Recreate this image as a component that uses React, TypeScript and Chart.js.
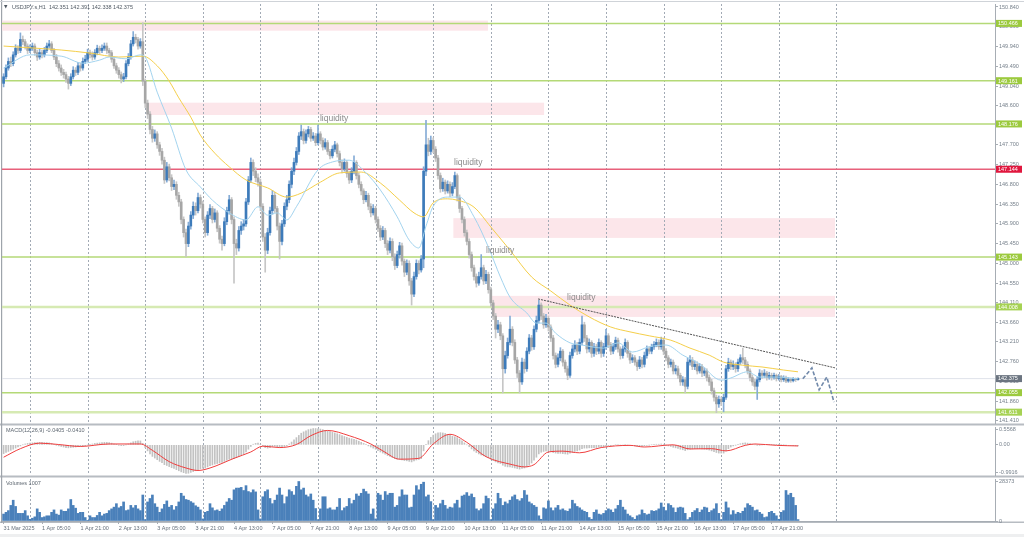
import React, { useEffect, useRef } from 'react';
import { Chart, registerables } from 'chart.js';

Chart.register(...registerables);

const FONT = '"Liberation Sans", Arial, sans-serif';

// ---------------- data ----------------
const symbolName = 'USDJPY.s,H1';

const opens = [
149.10,149.25,149.45,149.60,149.55,149.75,149.90,149.85,150.10,150.05,
149.95,149.85,149.90,149.95,149.80,149.70,149.80,149.75,149.85,149.95,
150.00,149.85,149.70,149.55,149.45,149.35,149.30,149.20,149.10,149.25,
149.40,149.35,149.50,149.45,149.60,149.65,149.80,149.75,149.70,149.80,
149.90,149.85,149.90,149.95,149.85,149.80,149.65,149.50,149.40,149.30,
149.20,149.25,149.55,149.70,150.00,150.15,150.10,149.95,150.05,149.15,
148.65,148.40,148.05,147.85,147.95,147.70,147.55,147.35,146.90,147.20,
146.95,146.75,146.80,146.55,146.40,146.00,145.70,145.45,145.85,146.10,
146.30,146.20,146.50,146.35,146.00,145.70,146.10,146.25,146.00,146.15,
145.80,145.55,145.45,145.95,146.20,146.45,146.00,145.45,145.35,145.75,
145.85,145.90,146.40,146.90,147.30,147.10,146.95,146.85,146.30,145.60,
145.30,145.70,146.20,146.55,146.25,145.85,145.50,145.90,146.30,146.45,
146.80,147.10,147.30,147.55,147.90,148.00,147.80,147.95,148.05,147.85,
147.90,147.75,147.95,147.80,147.65,147.75,147.55,147.45,147.60,147.70,
147.50,147.30,147.15,147.30,147.05,146.90,147.10,147.30,147.00,146.80,
146.65,146.45,146.55,146.30,146.15,146.25,146.00,145.80,145.60,145.75,
145.45,145.30,145.50,145.15,144.95,145.20,145.40,145.05,144.80,145.00,
144.60,144.30,144.70,145.00,144.85,145.10,147.10,147.70,147.55,147.80,
147.60,147.40,147.00,146.70,146.85,146.65,146.80,146.60,146.75,147.00,
146.50,146.25,146.00,145.70,145.50,145.20,144.90,144.70,144.55,144.70,
144.90,144.60,144.75,144.40,144.10,143.80,143.50,143.60,143.35,142.60,
142.90,143.20,143.50,143.20,142.80,142.50,142.30,142.75,142.60,143.00,
143.30,143.10,143.50,143.70,144.05,143.80,143.60,143.75,143.55,143.30,
142.90,142.70,142.85,143.00,142.75,142.60,142.45,142.90,143.05,143.15,
143.00,143.20,143.60,143.30,143.05,143.20,142.95,143.10,143.00,143.20,
142.95,143.10,143.35,143.15,143.00,143.10,143.25,143.05,142.90,143.05,
143.20,142.95,142.80,142.85,142.75,142.65,142.80,142.70,142.90,143.05,
143.00,143.10,143.15,143.20,143.10,143.25,143.00,142.85,142.70,142.75,
142.55,142.60,142.45,142.30,142.35,142.20,142.75,142.80,142.65,142.70,
142.55,142.65,142.50,142.55,142.40,142.30,142.10,141.95,141.80,141.90,
141.85,141.95,142.60,142.75,142.65,142.70,142.60,142.75,142.85,142.80,
142.70,142.55,142.40,142.30,142.20,142.35,142.50,142.45,142.50,142.40,
142.45,142.40,142.45,142.38,142.42,142.35,142.40,142.32,142.36,142.33,
142.37,142.351];

const highs = [
149.32,149.52,149.68,149.70,149.82,149.98,149.96,150.25,150.18,150.10,
150.00,149.98,150.02,150.00,149.86,149.88,149.86,149.92,150.02,150.08,
150.05,149.90,149.76,149.62,149.52,149.42,149.36,149.26,149.32,149.48,
149.46,149.58,149.56,149.68,149.74,149.88,149.86,149.82,149.87,149.97,
149.95,149.98,150.02,150.02,149.90,149.85,149.70,149.56,149.46,149.36,
149.33,149.62,149.78,150.08,150.28,150.22,150.15,150.12,150.48,149.20,
148.72,148.46,148.12,148.04,148.00,147.76,147.62,147.42,147.30,147.26,
147.02,146.90,146.86,146.62,146.46,146.06,145.78,145.94,146.18,146.40,
146.38,146.60,146.56,146.42,146.06,146.18,146.34,146.30,146.24,146.20,
145.86,145.62,146.04,146.28,146.55,146.50,146.06,145.55,145.84,145.95,
146.00,146.48,146.98,147.40,147.36,147.18,147.04,146.92,146.36,145.68,
145.80,146.28,146.66,146.62,146.30,145.92,145.98,146.38,146.55,146.88,
147.18,147.40,147.64,147.98,148.15,148.06,148.04,148.12,148.10,147.98,
147.96,148.15,148.00,147.86,147.84,147.80,147.60,147.68,147.78,147.74,
147.56,147.36,147.38,147.34,147.10,147.18,147.45,147.34,147.06,146.86,
146.70,146.64,146.60,146.36,146.34,146.30,146.06,145.86,145.84,145.80,
145.52,145.58,145.56,145.22,145.28,145.48,145.46,145.10,145.08,145.06,
144.66,144.80,145.08,145.06,145.18,147.20,148.26,147.85,147.90,147.86,
147.66,147.46,147.06,146.94,146.90,146.88,146.86,146.84,147.08,147.04,
146.56,146.30,146.06,145.76,145.56,145.26,144.96,144.76,144.80,145.20,
144.96,144.84,144.80,144.46,144.16,143.86,143.70,143.66,143.40,143.00,
143.30,143.80,143.56,143.26,142.86,142.56,142.84,142.82,143.08,143.38,
143.36,143.58,143.80,144.16,144.10,143.86,143.84,143.80,143.60,143.36,
142.96,142.94,143.08,143.04,142.80,142.66,142.98,143.14,143.24,143.20,
143.28,143.80,143.66,143.36,143.28,143.24,143.18,143.16,143.28,143.24,
143.18,143.50,143.40,143.20,143.18,143.32,143.30,143.10,143.12,143.28,
143.24,143.00,142.92,142.90,142.80,142.88,142.86,142.98,143.12,143.10,
143.16,143.22,143.28,143.26,143.32,143.30,143.06,142.90,142.82,142.80,
142.68,142.66,142.50,142.42,142.40,142.84,142.90,142.86,142.78,142.76,
142.72,142.70,142.62,142.60,142.46,142.36,142.16,142.00,141.98,141.96,
142.02,142.68,142.84,142.80,142.78,142.74,142.82,142.92,143.07,142.86,
142.76,142.60,142.46,142.36,142.42,142.58,142.56,142.58,142.54,142.52,
142.50,142.50,142.48,142.47,142.45,142.44,142.43,142.40,142.39,142.40,
142.39,142.391];

const lows = [
149.02,149.20,149.40,149.48,149.50,149.70,149.78,149.80,149.98,149.88,
149.78,149.80,149.85,149.74,149.62,149.65,149.68,149.70,149.80,149.90,
149.80,149.64,149.48,149.38,149.28,149.22,149.12,148.97,149.05,149.20,
149.28,149.30,149.38,149.40,149.55,149.60,149.68,149.63,149.65,149.75,
149.78,149.80,149.85,149.78,149.72,149.58,149.44,149.33,149.22,149.11,
149.14,149.20,149.50,149.65,149.95,150.02,149.88,149.90,149.05,148.55,
148.30,147.95,147.76,147.78,147.62,147.46,147.26,146.82,146.85,146.88,
146.66,146.68,146.46,146.30,145.90,145.60,145.15,145.38,145.78,146.02,
146.10,146.15,146.26,145.92,145.60,145.64,146.02,145.92,145.94,145.72,
145.46,145.30,145.40,145.88,146.12,145.90,144.55,145.20,145.28,145.66,
145.76,145.84,146.34,146.84,147.00,146.86,146.76,146.20,145.50,144.80,
145.22,145.64,146.12,146.16,145.76,145.10,145.42,145.84,146.22,146.38,
146.72,147.02,147.24,147.48,147.82,147.72,147.74,147.88,147.78,147.80,
147.68,147.70,147.72,147.58,147.60,147.48,147.38,147.40,147.54,147.42,
147.22,147.06,147.10,146.96,146.82,146.84,147.04,146.92,146.72,146.56,
146.36,146.40,146.22,146.06,146.10,145.92,145.72,145.52,145.54,145.36,
145.20,145.24,145.06,144.86,144.90,145.12,144.96,144.70,144.74,144.50,
144.05,144.24,144.64,144.76,144.80,144.90,147.00,147.45,147.48,147.52,
147.32,146.92,146.62,146.64,146.58,146.60,146.52,146.54,146.70,146.42,
146.16,145.92,145.62,145.42,145.12,144.82,144.62,144.46,144.50,144.64,
144.52,144.54,144.32,144.02,143.72,143.30,143.42,143.26,142.05,142.50,
142.84,143.14,143.12,142.72,142.40,142.05,142.24,142.50,142.54,142.94,
143.02,143.04,143.44,143.64,143.72,143.52,143.54,143.46,143.22,142.82,
142.62,142.64,142.78,142.66,142.52,142.35,142.40,142.84,142.98,142.92,
142.94,143.14,143.22,142.96,142.98,142.86,142.88,142.92,142.94,142.86,
142.88,143.04,143.08,142.92,142.94,143.04,142.98,142.82,142.84,142.98,
142.86,142.72,142.74,142.68,142.56,142.60,142.62,142.64,142.84,142.94,
142.94,143.04,143.10,143.04,143.04,142.92,142.78,142.62,142.64,142.48,
142.48,142.38,142.22,142.22,142.05,142.14,142.68,142.58,142.58,142.48,
142.50,142.42,142.44,142.32,142.22,142.02,141.86,141.60,141.72,141.76,
141.62,141.90,142.54,142.58,142.58,142.52,142.54,142.70,142.72,142.62,
142.48,142.32,142.22,142.12,141.90,142.30,142.38,142.40,142.34,142.36,
142.34,142.36,142.32,142.34,142.30,142.31,142.28,142.29,142.29,142.30,
142.31,142.338];

const closes = [
149.25,149.45,149.60,149.55,149.75,149.90,149.85,150.10,150.05,149.95,
149.85,149.90,149.95,149.80,149.70,149.80,149.75,149.85,149.95,150.00,
149.85,149.70,149.55,149.45,149.35,149.30,149.20,149.10,149.25,149.40,
149.35,149.50,149.45,149.60,149.65,149.80,149.75,149.70,149.80,149.90,
149.85,149.90,149.95,149.85,149.80,149.65,149.50,149.40,149.30,149.20,
149.25,149.55,149.70,150.00,150.15,150.10,149.95,150.05,149.15,148.65,
148.40,148.05,147.85,147.95,147.70,147.55,147.35,146.90,147.20,146.95,
146.75,146.80,146.55,146.40,146.00,145.70,145.45,145.85,146.10,146.30,
146.20,146.50,146.35,146.00,145.70,146.10,146.25,146.00,146.15,145.80,
145.55,145.45,145.95,146.20,146.45,146.00,145.45,145.35,145.75,145.85,
145.90,146.40,146.90,147.30,147.10,146.95,146.85,146.30,145.60,145.30,
145.70,146.20,146.55,146.25,145.85,145.50,145.90,146.30,146.45,146.80,
147.10,147.30,147.55,147.90,148.00,147.80,147.95,148.05,147.85,147.90,
147.75,147.95,147.80,147.65,147.75,147.55,147.45,147.60,147.70,147.50,
147.30,147.15,147.30,147.05,146.90,147.10,147.30,147.00,146.80,146.65,
146.45,146.55,146.30,146.15,146.25,146.00,145.80,145.60,145.75,145.45,
145.30,145.50,145.15,144.95,145.20,145.40,145.05,144.80,145.00,144.60,
144.30,144.70,145.00,144.85,145.10,147.10,147.70,147.55,147.80,147.60,
147.40,147.00,146.70,146.85,146.65,146.80,146.60,146.75,147.00,146.50,
146.25,146.00,145.70,145.50,145.20,144.90,144.70,144.55,144.70,144.90,
144.60,144.75,144.40,144.10,143.80,143.50,143.60,143.35,142.60,142.90,
143.20,143.50,143.20,142.80,142.50,142.30,142.75,142.60,143.00,143.30,
143.10,143.50,143.70,144.05,143.80,143.60,143.75,143.55,143.30,142.90,
142.70,142.85,143.00,142.75,142.60,142.45,142.90,143.05,143.15,143.00,
143.20,143.60,143.30,143.05,143.20,142.95,143.10,143.00,143.20,142.95,
143.10,143.35,143.15,143.00,143.10,143.25,143.05,142.90,143.05,143.20,
142.95,142.80,142.85,142.75,142.65,142.80,142.70,142.90,143.05,143.00,
143.10,143.15,143.20,143.10,143.25,143.00,142.85,142.70,142.75,142.55,
142.60,142.45,142.30,142.35,142.20,142.75,142.80,142.65,142.70,142.55,
142.65,142.50,142.55,142.40,142.30,142.10,141.95,141.80,141.90,141.85,
141.95,142.60,142.75,142.65,142.70,142.60,142.75,142.85,142.80,142.70,
142.55,142.40,142.30,142.20,142.35,142.50,142.45,142.50,142.40,142.45,
142.40,142.45,142.38,142.42,142.35,142.40,142.32,142.36,142.33,142.37,
142.351,142.375];

const volumes = [
5000,6250,7500,11250,15000,10500,5500,5500,5500,7500,3750,1250,
2000,3000,8750,6250,2500,3000,3750,3750,6250,8000,5000,4250,
8000,7000,7000,8750,15500,11250,9250,5500,6250,6250,2500,500,
3750,2500,2500,4000,6250,3750,5000,5500,7500,8750,10000,12500,
9500,10500,13750,7500,8000,11250,9500,11250,8750,7500,18750,1000,
13750,16250,18750,12500,10000,6250,8750,12000,14500,10000,11250,8000,
10500,13750,20000,18000,15500,15000,14000,13000,11000,10000,8000,1500,
6250,7000,12500,9500,7500,8000,7000,8750,11250,13750,16250,15000,
22500,23750,23750,24250,22000,25500,21250,20500,22500,21000,8000,1500,
17500,21250,22500,16250,12500,15000,18750,23750,18750,12500,17500,22500,
21250,18750,25000,28500,22500,23750,18750,17500,19500,15000,9000,1000,
8750,17500,17500,8750,9500,8000,8000,10000,16250,7500,9500,10500,
16250,12500,15000,19500,18000,20000,23000,21250,19500,5000,8750,1500,
20000,18750,15000,21250,18750,20000,20000,10000,11250,17500,22500,18750,
18750,9500,10000,18750,25500,22500,26500,28000,17500,18750,14000,1000,
11250,9500,12500,15000,11250,8750,10000,9500,12500,15000,9500,18000,
18750,20500,18000,19500,17000,8750,7500,8750,12500,18000,16250,1000,
8750,12500,20000,16250,11250,13750,12500,15000,17500,18750,15500,14500,
16250,22000,18750,13750,12500,11250,10000,3750,1250,9500,8750,14500,
9500,7500,9500,11250,8000,8750,7500,7000,8750,15000,12500,10500,
9500,8000,7000,6250,2500,1250,6250,8000,5000,4500,5500,7500,
8750,8000,6250,8750,11250,15000,10000,8000,5000,3750,2500,1250,
3750,4500,8000,5500,4500,5000,7500,7000,7500,8750,13000,10000,
7500,12500,11250,9500,6250,9500,10000,9500,5500,1000,2500,6250,
7500,9000,6250,8000,10000,9500,6250,7500,8750,12500,5500,1000,
6250,13750,9500,4500,7500,5000,6250,5500,7000,9500,12500,11250,
10000,7500,8000,6250,5000,2500,3000,6250,7000,5500,3750,1250,
6250,7500,22000,18750,20000,17000,11250,1007];

const macdHist = [
-0.32,-0.28,-0.24,-0.20,-0.16,
-0.12,-0.08,-0.04,0.00,0.03,0.05,0.06,
0.07,0.08,0.08,0.09,0.09,0.08,0.08,0.07,
0.05,0.02,-0.01,-0.04,-0.06,-0.08,-0.10,-0.11,-0.10,-0.09,-0.08,-0.07,-0.06,-0.05,-0.03,-0.01,0.01,
0.03,0.05,0.06,0.07,0.08,0.09,0.09,0.08,0.06,0.03,0.01,-0.01,-0.03,-0.03,0.00,0.03,0.07,0.11,0.13,0.14,0.14,
0.05,-0.10,-0.22,-0.33,-0.42,-0.48,-0.54,-0.60,-0.65,-0.72,-0.75,-0.79,-0.83,-0.86,-0.90,-0.94,-0.98,-1.01,-1.04,-1.03,
-1.00,-0.97,-0.94,-0.90,-0.87,-0.85,-0.84,-0.80,-0.76,-0.73,-0.70,-0.68,-0.66,-0.64,-0.60,-0.56,-0.52,-0.50,-0.50,-0.46,-0.42,-0.38,-0.34,
-0.26,-0.16,-0.06,0.02,0.05,0.06,0.02,-0.04,-0.10,-0.12,
-0.10,-0.06,-0.05,-0.07,-0.10,-0.09,-0.06,-0.03,0.03,0.10,0.18,
0.26,0.34,0.42,0.47,0.51,0.55,0.57,0.59,0.59,0.58,0.57,0.55,0.52,0.50,
0.48,0.45,0.43,0.40,0.37,0.33,0.30,0.27,0.24,0.22,0.20,0.17,0.13,0.09,0.05,
0.01,-0.04,-0.08,-0.12,-0.16,-0.21,-0.26,-0.30,-0.34,-0.39,-0.42,-0.46,-0.50,-0.52,-0.53,-0.55,-0.57,-0.58,-0.60,-0.62,
-0.58,-0.55,-0.53,-0.50,
-0.22,0.02,0.15,0.27,0.35,0.40,0.43,0.44,0.43,0.41,0.38,0.35,0.31,0.29,0.26,
0.20,0.14,0.07,0.00,-0.07,-0.15,-0.22,-0.28,-0.33,-0.37,-0.40,-0.43,-0.47,-0.52,-0.57,-0.62,-0.66,-0.68,-0.74,-0.78,-0.80,
-0.80,-0.82,-0.84,-0.86,-0.88,-0.86,-0.84,-0.80,-0.74,-0.66,-0.56,-0.45,
-0.33,-0.27,-0.24,-0.22,-0.22,-0.24,-0.28,-0.30,-0.31,-0.31,-0.32,-0.33,-0.34,
-0.30,-0.27,-0.24,-0.22,-0.19,-0.14,-0.12,-0.12,-0.11,-0.11,-0.10,-0.10,-0.08,-0.08,-0.07,
-0.04,-0.03,-0.03,-0.02,0.00,0.00,-0.01,-0.01,0.00,-0.01,-0.02,-0.03,-0.04,-0.05,-0.05,-0.05,-0.04,-0.02,-0.01,0.00,0.01,0.02,0.02,0.03,0.02,
-0.01,-0.04,-0.06,-0.09,-0.11,-0.13,-0.16,-0.18,-0.21,-0.18,-0.16,-0.15,-0.14,-0.14,-0.14,-0.15,-0.16,-0.17,-0.19,-0.22,-0.25,-0.28,-0.30,-0.30,-0.30,
-0.22,-0.14,-0.08,-0.04,-0.01,0.02,0.04,0.06,0.07,0.06,0.04,0.02,0.00,-0.01,-0.01,
0.00,0.00,0.01,0.01,0.01,0.01,0.01,0.01,0.00,0.00,-0.01,-0.02,-0.02,-0.03,-0.035,-0.0405];

const macdSignalIdx = [0,7,15,23,32,44,57,62,69,76,81,86,96,103,108,115,122,128,135,144,153,158,165,173,179,186,193,201,212,217,221,227,233,240,249,261,267,279,286,295,301,309,313,322,331];
const macdSignalVal = [-0.45,-0.14,0.06,0.01,-0.06,0.03,0.03,-0.20,-0.61,-0.84,-0.93,-0.84,-0.49,-0.26,-0.05,-0.10,0.01,0.33,0.52,0.33,0.03,-0.22,-0.52,-0.49,0.03,0.38,0.09,-0.43,-0.72,-0.80,-0.72,-0.26,-0.23,-0.29,-0.10,-0.02,-0.08,0.00,-0.15,-0.14,-0.22,-0.02,0.03,-0.02,-0.041];
const macdParams = '12,26,9';

const maSlowIdx = [0,11,24,36,48,58,64,69,73,78,82,88,94,101,110,118,124,132,140,149,157,165,171,175,179,185,189,196,203,211,220,228,236,244,253,261,269,278,286,294,300,308,316,325,331];
const maSlowVal = [149.95,149.91,149.86,149.79,149.70,149.72,149.50,149.15,148.77,148.33,147.92,147.51,147.20,146.90,146.72,146.51,146.60,146.85,147.06,147.08,146.83,146.44,146.15,146.06,146.38,146.47,146.44,146.28,145.83,145.30,144.69,144.37,144.05,143.78,143.55,143.44,143.35,143.25,143.07,142.91,142.75,142.68,142.64,142.57,142.53];

const maFastIdx = [0,11,24,33,40,44,51,57,59,64,70,76,82,87,94,101,106,110,114,118,122,131,137,144,151,157,164,169,173,176,179,185,190,196,202,207,211,218,222,226,230,236,241,250,256,262,269,276,283,290,299,303,310,315,322,331];
const maFastVal = [149.45,149.75,149.72,149.56,149.63,149.70,149.66,149.75,149.70,148.90,148.08,147.13,146.74,146.44,146.15,145.99,146.29,146.10,146.15,145.99,146.29,147.13,147.31,147.35,147.06,146.67,146.06,145.53,145.35,145.85,146.30,146.51,146.51,146.06,145.37,144.69,144.23,143.87,143.64,143.64,143.41,143.19,143.14,143.07,143.19,142.98,143.10,143.14,142.91,142.71,142.34,142.39,142.53,142.41,142.41,142.37];

const levelGreen = [150.466, 149.161, 148.176, 145.143, 142.055];
const levelPale = [144.008, 141.611];
const levelRed = [147.144];
const currentPrice = 142.375;

const zoneStartIdx = [-1, 59.6, 187.4, 203.5];
const zoneEndIdx = [201.8, 225.2, 346.4, 346.4];
const zoneHigh = [150.53, 148.66, 146.03, 144.26];
const zoneLow = [150.30, 148.38, 145.58, 143.78];

const liquidityIdx = [131.8, 187.7, 201.0, 234.8];
const liquidityPrice = [148.29, 147.30, 145.28, 144.23];
const liquidityText = ['liquidity', 'liquidity', 'liquidity', 'liquidity'];

const trendIdx = [222.7, 346.4];
const trendPrice = [144.19, 142.62];

const forecastIdx = [333, 336.8, 339.8, 343, 346];
const forecastPrice = [142.37, 142.62, 142.12, 142.41, 141.84];

const priceTicks = [150.84,150.39,149.94,149.49,149.04,148.6,148.15,147.7,147.25,146.8,146.35,145.9,145.45,145.0,144.55,144.11,143.66,143.21,142.76,142.31,141.86,141.41];
const macdTicks = [0.5568, 0, -0.9916];
const macdTickLabels = ['0.5568', '0.00', '-0.9916'];
const volumeTicks = [28373, 0];

const dayStartIdx = [11,35,59,83,107,131,155,179,203,227,251,275,299,323,347];
const timeLabelIdx = [0,16,32,48,64,80,96,112,128,144,160,176,192,208,224,240,256,272,288,304,320];
const timeLabels = ['31 Mar 2025','1 Apr 05:00','1 Apr 21:00','2 Apr 13:00','3 Apr 05:00','3 Apr 21:00','4 Apr 13:00','7 Apr 05:00','7 Apr 21:00','8 Apr 13:00','9 Apr 05:00','9 Apr 21:00','10 Apr 13:00','11 Apr 05:00','11 Apr 21:00','14 Apr 13:00','15 Apr 05:00','15 Apr 21:00','16 Apr 13:00','17 Apr 05:00','17 Apr 21:00'];

// ---------------- config ----------------
const X_MIN = -0.667;
const X_MAX = 413.08;
const AXIS_TEXT = '#77818c';
const AXIS_LINE = '#a7adb4';
const SMALL = 5.5;

const idx = closes.map((_, i) => i);
const isUp = closes.map((c, i) => c >= opens[i]);

function dayLines(chart: any) {
  const { ctx, chartArea: a, scales } = chart;
  const x = scales.x;
  ctx.save();
  ctx.beginPath();
  ctx.rect(a.left, a.top, a.right - a.left, a.bottom - a.top);
  ctx.clip();
  ctx.strokeStyle = '#a2aab5';
  ctx.lineWidth = 1;
  ctx.setLineDash([2, 2]);
  for (const d of dayStartIdx) {
    const px = Math.round(x.getPixelForValue(d)) + 0.5;
    ctx.beginPath();
    ctx.moveTo(px, a.top);
    ctx.lineTo(px, a.bottom);
    ctx.stroke();
  }
  ctx.restore();
}

function rightAxis(min: number, max: number, ticks: number[], fmt: any) {
  return {
    position: 'right',
    min,
    max,
    afterFit: (s: any) => { s.width = 29; },
    afterBuildTicks: (s: any) => { s.ticks = ticks.map((v) => ({ value: v })); },
    ticks: { callback: fmt, color: AXIS_TEXT, font: { family: FONT, size: SMALL, lineHeight: 1 }, padding: 1, autoSkip: false },
    grid: { drawOnChartArea: false, drawTicks: true, tickLength: 3, color: AXIS_LINE },
    border: { display: true, color: AXIS_LINE },
  };
}

const hiddenX = { type: 'linear', min: X_MIN, max: X_MAX, offset: false, display: false };

function common(top: number, bottom: number) {
  return {
    responsive: false,
    animation: false,
    events: [],
    layout: { padding: { left: 2, right: 0, top, bottom } },
    plugins: { legend: { display: false }, tooltip: { enabled: false } },
  };
}

function hLine(v: number, color: string, width: number, order: number) {
  return {
    type: 'line',
    data: [{ x: X_MIN, y: v }, { x: X_MAX, y: v }],
    borderColor: color,
    borderWidth: width,
    pointRadius: 0,
    order,
  };
}

function makeMain(canvas: HTMLCanvasElement) {
  const decor = {
    id: 'mainDecor',
    beforeDraw(chart: any) {
      const { ctx } = chart;
      ctx.save();
      ctx.fillStyle = '#ffffff';
      ctx.fillRect(0, 0, 1024, 537);
      ctx.fillStyle = '#b7bcc2';
      ctx.fillRect(0, 423.5, 1024, 2);
      ctx.fillRect(0, 475.5, 1024, 2);
      ctx.fillRect(0, 521.5, 1024, 1.5);
      ctx.fillStyle = '#eeeff0';
      ctx.fillRect(0, 534, 1024, 3);
      ctx.fillStyle = '#9ea4ab';
      ctx.fillRect(1, 0, 1.2, 523);
      ctx.fillStyle = '#cfd3d8';
      ctx.fillRect(0, 1, 1024, 1);
      ctx.restore();
    },
    beforeDatasetsDraw(chart: any) {
      const { ctx, chartArea: a, scales: { x, y } } = chart;
      ctx.save();
      ctx.beginPath();
      ctx.rect(a.left, a.top, a.right - a.left, a.bottom - a.top);
      ctx.clip();
      ctx.fillStyle = '#fce6ea';
      zoneStartIdx.forEach((s, k) => {
        const x0 = x.getPixelForValue(s);
        const x1 = x.getPixelForValue(zoneEndIdx[k]);
        const y0 = y.getPixelForValue(zoneHigh[k]);
        const y1 = y.getPixelForValue(zoneLow[k]);
        ctx.fillRect(x0, y0, x1 - x0, y1 - y0);
      });
      ctx.restore();
      dayLines(chart);
    },
    afterDatasetsDraw(chart: any) {
      const { ctx, scales: { x, y } } = chart;
      ctx.save();
      ctx.fillStyle = '#8b8b8b';
      ctx.font = `8.5px ${FONT}`;
      ctx.textBaseline = 'middle';
      ctx.textAlign = 'left';
      liquidityIdx.forEach((v, k) => {
        ctx.fillText(liquidityText[k], x.getPixelForValue(v), y.getPixelForValue(liquidityPrice[k]));
      });
      const n = closes.length - 1;
      ctx.fillStyle = '#4f5862';
      ctx.font = `4.5px "DejaVu Sans", sans-serif`;
      ctx.fillText('\u25BC', 4, 7);
      ctx.font = `${SMALL}px ${FONT}`;
      ctx.fillText(
        `${symbolName}  ${opens[n].toFixed(3)} ${highs[n].toFixed(3)} ${lows[n].toFixed(3)} ${closes[n].toFixed(3)}`,
        12, 7
      );
      ctx.restore();
    },
    afterDraw(chart: any) {
      const { ctx, chartArea: a, scales: { y } } = chart;
      const boxes: [number, string][] = [
        ...levelGreen.map((v) => [v, '#9cca3e'] as [number, string]),
        ...levelPale.map((v) => [v, '#a6d253'] as [number, string]),
        ...levelRed.map((v) => [v, '#e0173e'] as [number, string]),
        [currentPrice, '#6b7480'],
      ];
      ctx.save();
      ctx.font = `${SMALL}px ${FONT}`;
      ctx.textBaseline = 'middle';
      ctx.textAlign = 'left';
      for (const [v, c] of boxes) {
        const py = y.getPixelForValue(v);
        ctx.fillStyle = c;
        ctx.fillRect(a.right + 1, py - 3.5, 26, 7);
        ctx.fillStyle = '#ffffff';
        ctx.fillText(v.toFixed(3), a.right + 3, py + 0.3);
      }
      ctx.restore();
    },
  };

  const datasets: any[] = [
    hLine(currentPrice, '#dfe2ea', 1, 30),
    ...levelPale.map((v) => hLine(v, '#d6eab3', 2.5, 20)),
    ...levelGreen.map((v) => hLine(v, '#b4d977', 1.5, 19)),
    ...levelRed.map((v) => hLine(v, '#e8607b', 1.5, 18)),
    {
      type: 'bar',
      data: idx.map((i) => ({ x: i, y: [lows[i], highs[i]] })),
      backgroundColor: isUp.map((u) => (u ? '#86acd6' : '#c6c6c6')),
      barThickness: 1,
      grouped: false,
      order: 9,
    },
    {
      type: 'bar',
      data: idx.map((i) => ({ x: i, y: [opens[i], closes[i]] })),
      backgroundColor: isUp.map((u) => (u ? '#3d7bba' : '#a6a6a6')),
      barThickness: 2,
      minBarLength: 1,
      grouped: false,
      order: 8,
    },
    {
      type: 'line',
      data: maSlowIdx.map((v, k) => ({ x: v, y: maSlowVal[k] })),
      borderColor: '#f5cf4a',
      borderWidth: 1,
      pointRadius: 0,
      cubicInterpolationMode: 'monotone',
      order: 5,
    },
    {
      type: 'line',
      data: maFastIdx.map((v, k) => ({ x: v, y: maFastVal[k] })),
      borderColor: '#a3d4ef',
      borderWidth: 1,
      pointRadius: 0,
      cubicInterpolationMode: 'monotone',
      order: 4,
    },
    {
      type: 'line',
      data: trendIdx.map((v, k) => ({ x: v, y: trendPrice[k] })),
      borderColor: '#555555',
      borderWidth: 1,
      borderDash: [2, 1],
      pointRadius: 0,
      order: 3,
    },
    {
      type: 'line',
      data: forecastIdx.map((v, k) => ({ x: v, y: forecastPrice[k] })),
      borderColor: '#7189aa',
      borderWidth: 1.6,
      borderDash: [4, 2],
      pointRadius: 0,
      order: 2,
    },
  ];

  return new Chart(canvas, {
    type: 'bar',
    data: { datasets },
    options: {
      ...common(4, 114),
      scales: {
        x: hiddenX,
        y: rightAxis(141.364, 150.908, priceTicks, (v: any) => Number(v).toFixed(3)),
      },
    } as any,
    plugins: [decor],
  } as any);
}

function makeMacd(canvas: HTMLCanvasElement) {
  const decor = {
    id: 'macdDecor',
    beforeDatasetsDraw(chart: any) { dayLines(chart); },
    afterDraw(chart: any) {
      const { ctx } = chart;
      const n = macdHist.length - 1;
      ctx.save();
      ctx.fillStyle = '#5e6771';
      ctx.font = `${SMALL}px ${FONT}`;
      ctx.textBaseline = 'middle';
      ctx.fillText(`MACD(${macdParams}) ${macdHist[n].toFixed(4)} ${macdSignalVal[macdSignalVal.length - 1].toFixed(4)}`, 6, 430.5);
      ctx.restore();
    },
  };
  return new Chart(canvas, {
    type: 'bar',
    data: {
      datasets: [
        {
          type: 'bar',
          data: idx.map((i) => ({ x: i, y: macdHist[i] })),
          backgroundColor: '#c2c2c2',
          barThickness: 1,
          grouped: false,
          order: 2,
        },
        {
          type: 'line',
          data: macdSignalIdx.map((v, k) => ({ x: v, y: macdSignalVal[k] })),
          borderColor: '#ef3e3e',
          borderWidth: 1,
          pointRadius: 0,
          cubicInterpolationMode: 'monotone',
          order: 1,
        },
      ],
    },
    options: {
      ...common(427, 62),
      scales: {
        x: hiddenX,
        y: rightAxis(-1.094, 0.645, macdTicks, (_v: any, i: number) => macdTickLabels[i]),
      },
    } as any,
    plugins: [decor],
  } as any);
}

function makeVolume(canvas: HTMLCanvasElement) {
  const decor = {
    id: 'volDecor',
    beforeDatasetsDraw(chart: any) { dayLines(chart); },
    afterDraw(chart: any) {
      const { ctx } = chart;
      ctx.save();
      ctx.fillStyle = '#5e6771';
      ctx.font = `${SMALL}px ${FONT}`;
      ctx.textBaseline = 'middle';
      ctx.fillText(`Volumes ${volumes[volumes.length - 1]}`, 6, 483);
      ctx.restore();
    },
  };
  return new Chart(canvas, {
    type: 'bar',
    data: {
      datasets: [
        {
          type: 'bar',
          data: idx.map((i) => ({ x: i, y: volumes[i] })),
          backgroundColor: '#4a80ba',
          barThickness: 2,
          grouped: false,
        },
      ],
    },
    options: {
      ...common(479, 0),
      scales: {
        x: {
          type: 'linear',
          min: X_MIN,
          max: X_MAX,
          offset: false,
          position: 'bottom',
          afterFit: (s: any) => { s.height = 16; },
          afterBuildTicks: (s: any) => { s.ticks = timeLabelIdx.map((v) => ({ value: v })); },
          ticks: {
            callback: (_v: any, i: number) => timeLabels[i],
            align: 'start',
            autoSkip: false,
            maxRotation: 0,
            minRotation: 0,
            color: '#66707b',
            font: { family: FONT, size: SMALL, lineHeight: 1 },
            padding: 2,
          },
          grid: { drawOnChartArea: false, drawTicks: true, tickLength: 3, color: AXIS_LINE, offset: false },
          border: { display: true, color: AXIS_LINE },
        },
        y: rightAxis(0, 30300, volumeTicks, (v: any) => String(v)),
      },
    } as any,
    plugins: [decor],
  } as any);
}

export default function App() {
  const mainRef = useRef<HTMLCanvasElement>(null);
  const macdRef = useRef<HTMLCanvasElement>(null);
  const volRef = useRef<HTMLCanvasElement>(null);

  useEffect(() => {
    const charts = [
      makeMain(mainRef.current as HTMLCanvasElement),
      makeMacd(macdRef.current as HTMLCanvasElement),
      makeVolume(volRef.current as HTMLCanvasElement),
    ];
    return () => charts.forEach((c) => c.destroy());
  }, []);

  const cs: React.CSSProperties = { position: 'absolute', left: 0, top: 0, width: 1024, height: 537 };
  return (
    <div style={{ position: 'fixed', left: 0, top: 0, width: 1024, height: 537, background: '#ffffff', overflow: 'hidden' }}>
      <canvas ref={mainRef} width={1024} height={537} style={cs} />
      <canvas ref={macdRef} width={1024} height={537} style={cs} />
      <canvas ref={volRef} width={1024} height={537} style={cs} />
    </div>
  );
}
